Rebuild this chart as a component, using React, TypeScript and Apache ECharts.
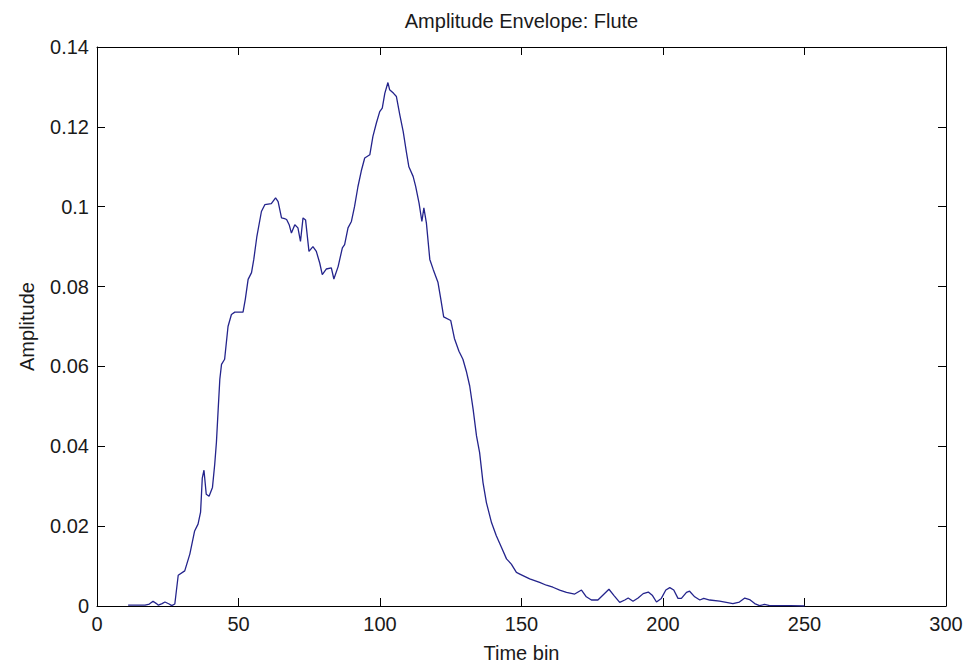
import React, { useEffect, useRef } from "react";
import * as echarts from "echarts";

const chartTitle = "Amplitude Envelope: Flute";
const xAxisName = "Time bin";
const yAxisName = "Amplitude";

const xTicks = { min: 0, max: 300, interval: 50 };
const yTicks = { min: 0, max: 0.14, interval: 0.02 };

const timeBins: number[] = [
  11, 14, 17, 18.5, 19.8, 21, 21.7, 23, 24, 25.5, 26.4, 27.5, 28, 28.7, 31, 32.8,
  34.5, 35.7, 36.6, 37.2, 37.8, 38.6, 39.6, 40.8, 41.6, 42.2, 42.8, 43.4, 44,
  45.1, 46.3, 47.5, 48.7, 51.6, 52.4, 53.4, 54.6, 55.4, 56.5, 58.1, 59.3, 61.6,
  63.1, 64, 65.2, 66.3, 67, 67.9, 68.7, 69.9, 71, 71.9, 72.8, 73.7, 74.9, 76.3,
  77.5, 78.7, 79.6, 81, 82.8, 83.7, 85.2, 86.7, 87.5, 88.7, 89.9, 91, 92.2,
  93.4, 94.6, 96.4, 97.5, 98.7, 99.9, 100.8, 101.7, 102.8, 103.4, 104.8, 105.8,
  107, 108.2, 109.3, 110.2, 111.7, 112.6, 113.8, 114.8, 115.5, 116.4, 117.6,
  118.8, 120.5, 121.5, 122.5, 125, 126.3, 127.9, 129.3, 130.5, 131.7, 132.9,
  134.1, 135.2, 136.4, 137.6, 139.4, 141.1, 142.9, 144.7, 146.4, 148.2, 149.4,
  152.9, 156.4, 158.8, 161.1, 163.5, 165.9, 168.8, 171.2, 172.9, 174.7, 177,
  179, 180.9, 182.7, 184.7, 186.5, 187.7, 189.4, 191.2, 193, 194.8, 196.3,
  197.7, 199.4, 201, 202.4, 203.8, 205.3, 206.5, 208.3, 209.4, 211.2, 213,
  214.4, 216.5, 220, 224.7, 227, 228.9, 230.6, 232.4, 234.1, 235.9, 237.7, 240,
  245, 250,
];

const amplitudes: number[] = [
  0.0002, 0.0002, 0.0002, 0.0005, 0.0012, 0.0006, 0.0002, 0.0006, 0.001, 0.0005,
  0.0001, 0.0005, 0.0035, 0.0077, 0.0088, 0.013, 0.0188, 0.0205, 0.0235, 0.032,
  0.034, 0.028, 0.0275, 0.0297, 0.0355, 0.041, 0.049, 0.0568, 0.0605, 0.0618,
  0.07, 0.073, 0.0736, 0.0736, 0.0768, 0.0818, 0.0835, 0.0868, 0.0926, 0.0988,
  0.1005, 0.1008, 0.1022, 0.1013, 0.0972, 0.097, 0.0968, 0.0955, 0.0934, 0.0955,
  0.0947, 0.0913, 0.0972, 0.0967, 0.0888, 0.09, 0.0888, 0.0859, 0.083, 0.0844,
  0.0847, 0.0819, 0.085, 0.0897, 0.0905, 0.0947, 0.0963, 0.1, 0.105, 0.109,
  0.1122, 0.113, 0.1176, 0.1209, 0.1238, 0.1247, 0.1284, 0.1311, 0.1293, 0.1284,
  0.1276, 0.123, 0.1188, 0.1138, 0.11, 0.1076, 0.1051, 0.1009, 0.0963, 0.0997,
  0.0959, 0.0868, 0.0843, 0.081, 0.0768, 0.0724, 0.0715, 0.067, 0.0638, 0.0618,
  0.0588, 0.0551, 0.0493, 0.0426, 0.0384, 0.0309, 0.0259, 0.0209, 0.0176,
  0.0147, 0.0118, 0.0105, 0.0084, 0.008, 0.0068, 0.0059, 0.0052, 0.0047, 0.004,
  0.0034, 0.003, 0.004, 0.0023, 0.0015, 0.0015, 0.0029, 0.0042, 0.0026, 0.0009,
  0.0015, 0.002, 0.0012, 0.002, 0.0031, 0.0035, 0.0026, 0.001, 0.0019, 0.004,
  0.0046, 0.004, 0.0019, 0.0019, 0.0034, 0.0037, 0.0023, 0.0015, 0.0019, 0.0015,
  0.0012, 0.0006, 0.001, 0.002, 0.0016, 0.0006, 0.0001, 0.0004, 0.0001, 0.0001,
  0.0001, 0.0,
];

const FONT = "'Liberation Sans', Arial, sans-serif";
const TEXT = "#1a1a1a";
const AXIS = "#000000";
const LINE = "#24248c";

export default function App() {
  const ref = useRef<HTMLDivElement>(null);

  useEffect(() => {
    if (!ref.current) return;
    const chart = echarts.init(ref.current, undefined, { renderer: "svg" });
    const axisLine = { show: true, onZero: false, lineStyle: { color: AXIS, width: 1 } };
    const axisTick = { show: true, inside: true, length: 8, lineStyle: { color: AXIS, width: 1 } };
    const fmtY = (v: number) => String(+v.toFixed(2));
    chart.setOption({
      animation: false,
      backgroundColor: "#ffffff",
      grid: { left: 97, right: 22, top: 47, bottom: 61, containLabel: false },
      xAxis: [
        {
          type: "value",
          position: "bottom",
          ...xTicks,
          name: xAxisName,
          nameLocation: "middle",
          nameGap: 37,
          nameTextStyle: { fontFamily: FONT, fontSize: 20, color: TEXT },
          axisLine,
          axisTick,
          splitLine: { show: false },
          axisLabel: { fontFamily: FONT, fontSize: 20, color: TEXT, margin: 8 },
        },
        {
          type: "value",
          position: "top",
          ...xTicks,
          name: chartTitle,
          nameLocation: "middle",
          nameGap: 16,
          nameTextStyle: { fontFamily: FONT, fontSize: 20, color: TEXT },
          axisLine,
          axisTick,
          splitLine: { show: false },
          axisLabel: { show: false },
        },
      ],
      yAxis: [
        {
          type: "value",
          position: "left",
          ...yTicks,
          name: yAxisName,
          nameLocation: "middle",
          nameRotate: 90,
          nameGap: 60,
          nameTextStyle: { fontFamily: FONT, fontSize: 20, color: TEXT },
          axisLine,
          axisTick,
          splitLine: { show: false },
          axisLabel: { fontFamily: FONT, fontSize: 20, color: TEXT, margin: 8, formatter: fmtY },
        },
        {
          type: "value",
          position: "right",
          ...yTicks,
          axisLine,
          axisTick,
          splitLine: { show: false },
          axisLabel: { show: false },
        },
      ],
      series: [
        {
          type: "line",
          xAxisIndex: 0,
          yAxisIndex: 0,
          data: timeBins.map((t, i) => [t, amplitudes[i]]),
          showSymbol: false,
          symbol: "none",
          lineStyle: { color: LINE, width: 1.3 },
        },
      ],
    });
    return () => chart.dispose();
  }, []);

  return (
    <div
      ref={ref}
      style={{ position: "fixed", left: 0, top: 0, width: 968, height: 668, background: "#fff" }}
    />
  );
}
